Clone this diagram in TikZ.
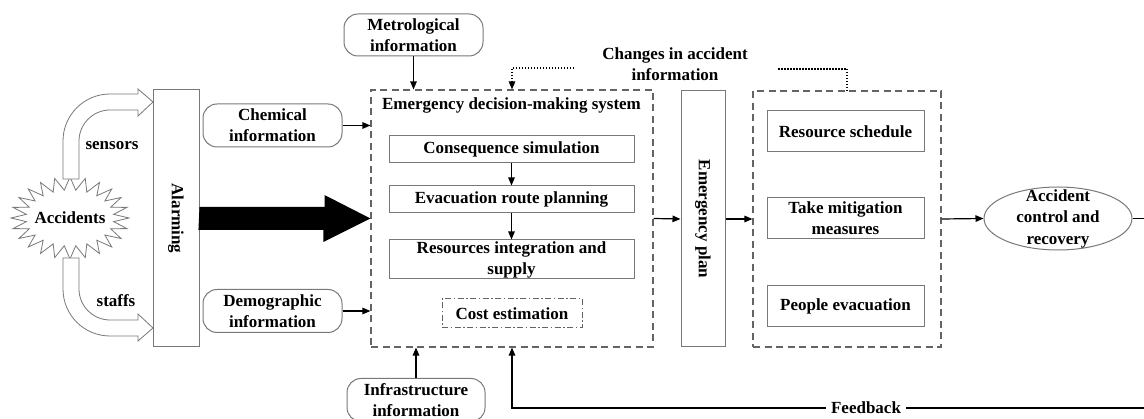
\documentclass[tikz,border=0pt]{standalone}
\usepackage{fontspec}
\setmainfont{Liberation Serif}
\usetikzlibrary{shapes.geometric,arrows.meta,calc}
\definecolor{boxgray}{RGB}{120,120,120}
\definecolor{dashgray}{RGB}{100,100,100}
\begin{document}
\begin{tikzpicture}[x=1pt,y=-1pt,
  every node/.style={font=\bfseries\fontsize{17}{21}\selectfont, inner sep=0pt, align=center},
  bx/.style={draw=boxgray, line width=1pt, fill=white},
  rbx/.style={bx, rounded corners=14pt},
  dbx/.style={draw=dashgray, line width=1.1pt, dash pattern=on 7pt off 4.5pt},
  ddbx/.style={draw=dashgray, line width=1pt, dash pattern=on 6pt off 2.5pt on 1.5pt off 2.5pt},
  arr/.style={line width=1.2pt, -{Triangle[length=8pt,width=6.5pt]}},
  dotl/.style={line width=1.3pt, dash pattern=on 1.5pt off 1.5pt},
  hollow/.style={draw=boxgray, fill=white, line width=0.8pt}
]
\useasboundingbox (0,0) rectangle (1144,419);

% Accidents starburst
\begin{scope}[shift={(70,218)}]
  \draw[hollow] (0:59pt and 41pt) \foreach \a in {0,15,...,345} { -- (\a:59pt and 41pt) -- ({\a+7.5}:44pt and 28pt) } -- cycle;
\end{scope}
\node (acc) at (70,218) {Accidents};

% hollow curved arrows
\draw[hollow] (63,179) -- (63,141) .. controls (63,115) and (84,94) .. (110,94) -- (138,94) -- (138,89) -- (153,102) -- (138,116) -- (138,110) -- (110,110) .. controls (93,110) and (79,124) .. (79,141) -- (79,179) -- cycle;
\draw[hollow] (63,258) -- (63,289) .. controls (63,315) and (84,336) .. (110,336) -- (138,336) -- (138,341) -- (153,328) -- (138,314) -- (138,320) -- (110,320) .. controls (93,320) and (79,306) .. (79,289) -- (79,258) -- cycle;
\node (sens) at (112,146) {sensors};
\node (staff) at (116,301) {staffs};

% Alarming
\node[bx, minimum width=46pt, minimum height=257pt] (alarm) at (176,218.5) {};
\node[rotate=-90] (alarmt) at (alarm) {Alarming};

% Emergency decision-making system
\node[dbx, minimum width=282pt, minimum height=257pt] (edm) at (512,218.5) {};
\node (edmt) at (511.5,105) {Emergency decision-making system};
\node[bx, minimum width=245pt, minimum height=27pt] (cons) at (511.5,149.5) {Consequence simulation};
\node[bx, minimum width=245pt, minimum height=27pt] (evac) at (511.5,199.5) {Evacuation route planning};
\node[bx, minimum width=245pt, minimum height=39pt] (res) at (511.5,259.5) {Resources integration and\\supply};
\node[ddbx, minimum width=140pt, minimum height=29pt] (cost) at (512,313.5) {Cost estimation};
\draw[arr] (cons) -- (evac);
\draw[arr] (evac) -- (res);

% big black arrow
\fill[black] (alarm.east) ++(0,-11.5) -- ++(125,0) -- ++(0,-12) -- (edm.west) -- ++(-47,23.5) -- ++(0,-12) -- ++(-125,0) -- cycle;

% information boxes
\node[rbx, minimum width=139pt, minimum height=42pt] (metro) at (413.5,35) {Metrological\\information};
\node[rbx, minimum width=139pt, minimum height=43pt] (chem) at (272.5,125.5) {Chemical\\information};
\node[rbx, minimum width=139pt, minimum height=43pt] (demo) at (272.5,311) {Demographic\\information};
\node[rbx, minimum width=138pt, minimum height=43pt] (infra) at (416,400) {Infrastructure\\information};
\draw[arr] (metro.south) -- (metro.south |- edm.north);
\draw[arr] (chem.east) -- (chem.east -| edm.west);
\draw[arr] (demo.east) -- (demo.east -| edm.west);
\draw[arr] (infra.north) -- (infra.north |- edm.south);

% Emergency plan
\node[bx, minimum width=44pt, minimum height=256pt] (eplan) at (703,219) {};
\node[rotate=-90] (eplant) at (eplan) {Emergency plan};

% right dashed box
\node[dbx, minimum width=188pt, minimum height=256pt] (rbox) at (847,219) {};
\node[bx, minimum width=157pt, minimum height=41pt] (rs) at (845.5,131.5) {Resource schedule};
\node[bx, minimum width=157pt, minimum height=41pt] (tm) at (845.5,218.5) {Take mitigation\\measures};
\node[bx, minimum width=157pt, minimum height=41pt] (pe) at (845.5,306.5) {People evacuation};

% ellipse
\node[ellipse, draw=boxgray, line width=1pt, fill=white, minimum width=148pt, minimum height=63pt] (ell) at (1058,218.5) {};
\node[font=\bfseries\fontsize{17}{21.5}\selectfont] (ellt) at (ell) {Accident\\control and\\recovery};

% main flow
\draw[arr] (edm.east) -- (eplan.west);
\draw[arr] (eplan.east) -- (rbox.west);
\draw[arr] (rbox.east) -- (ell.west);

% changes in accident information
\node (chg) at (675,64) {Changes in accident\\information};
\coordinate (d1) at (574,68);
\coordinate (d2) at (778,69);
\draw[dotl, -{Triangle[length=8pt,width=6.5pt]}] (d1) -- (d1 -| edm.north) -- (edm.north);
\draw[dotl] (d2) -- (d2 -| rbox.north) -- (rbox.north);

% feedback
\coordinate (ctrlR) at (1144,218.5);
\coordinate (fbR) at (1144,408);
\draw[line width=1.2pt] (ell.east) -- (ctrlR);
\draw[arr] (fbR) -- (fbR -| edm.south) -- (edm.south);
\node[fill=white, inner xsep=5pt, inner ysep=1pt] (fb) at (866,408) {Feedback};
\end{tikzpicture}
\end{document}
